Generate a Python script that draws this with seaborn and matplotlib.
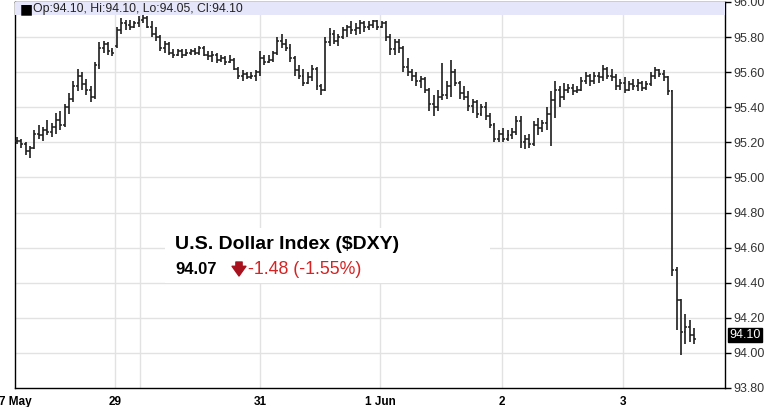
import numpy as np
import pandas as pd
import matplotlib.pyplot as plt
import matplotlib.patches as mpatches
import seaborn as sns

# OHLC bars (one per bar, left to right)
opens = [95.21, 95.21, 95.19, 95.15, 95.17, 95.25, 95.24, 95.27, 95.26, 95.29,
         95.33, 95.30, 95.40, 95.45, 95.52, 95.58, 95.53, 95.50, 95.46, 95.64,
         95.74, 95.76, 95.72, 95.75, 95.84, 95.88, 95.87, 95.86, 95.88, 95.90,
         95.91, 95.86, 95.82, 95.80, 95.74, 95.76, 95.71, 95.70, 95.72, 95.70,
         95.71, 95.72, 95.71, 95.74, 95.70, 95.69, 95.70, 95.67, 95.68, 95.66,
         95.67, 95.62, 95.58, 95.59, 95.57, 95.58, 95.60, 95.68, 95.66, 95.67,
         95.71, 95.78, 95.76, 95.74, 95.68, 95.61, 95.58, 95.54, 95.57, 95.62,
         95.52, 95.50, 95.77, 95.82, 95.78, 95.80, 95.84, 95.86, 95.84, 95.85,
         95.88, 95.86, 95.87, 95.89, 95.86, 95.88, 95.80, 95.73, 95.77, 95.74,
         95.63, 95.60, 95.58, 95.55, 95.56, 95.50, 95.42, 95.40, 95.46, 95.47,
         95.52, 95.60, 95.54, 95.48, 95.46, 95.41, 95.43, 95.36, 95.40, 95.35,
         95.30, 95.22, 95.25, 95.22, 95.24, 95.26, 95.32, 95.20, 95.22, 95.19,
         95.30, 95.28, 95.31, 95.36, 95.44, 95.50, 95.46, 95.50, 95.51, 95.49,
         95.50, 95.55, 95.58, 95.55, 95.58, 95.57, 95.62, 95.58, 95.57, 95.52,
         95.54, 95.50, 95.53, 95.52, 95.54, 95.51, 95.53, 95.58, 95.61, 95.59,
         95.57, 95.49, 94.47, 94.30, 94.12, 94.15, 94.10]
highs = [95.23, 95.22, 95.20, 95.18, 95.27, 95.30, 95.29, 95.33, 95.31, 95.37,
         95.38, 95.42, 95.48, 95.55, 95.62, 95.60, 95.56, 95.52, 95.66, 95.77,
         95.78, 95.77, 95.74, 95.86, 95.91, 95.90, 95.90, 95.89, 95.92, 95.93,
         95.92, 95.89, 95.86, 95.81, 95.78, 95.77, 95.73, 95.73, 95.73, 95.73,
         95.73, 95.74, 95.75, 95.75, 95.72, 95.72, 95.71, 95.70, 95.69, 95.70,
         95.68, 95.63, 95.61, 95.60, 95.60, 95.61, 95.72, 95.70, 95.70, 95.72,
         95.80, 95.82, 95.79, 95.76, 95.69, 95.64, 95.62, 95.60, 95.64, 95.63,
         95.53, 95.80, 95.85, 95.84, 95.82, 95.86, 95.87, 95.89, 95.88, 95.90,
         95.89, 95.89, 95.90, 95.90, 95.89, 95.89, 95.82, 95.79, 95.79, 95.75,
         95.68, 95.62, 95.60, 95.58, 95.57, 95.51, 95.47, 95.50, 95.65, 95.55,
         95.67, 95.62, 95.55, 95.52, 95.49, 95.45, 95.44, 95.42, 95.43, 95.37,
         95.31, 95.27, 95.28, 95.27, 95.28, 95.35, 95.35, 95.24, 95.25, 95.32,
         95.34, 95.33, 95.40, 95.49, 95.55, 95.52, 95.54, 95.53, 95.53, 95.52,
         95.57, 95.60, 95.59, 95.60, 95.60, 95.64, 95.63, 95.62, 95.59, 95.56,
         95.57, 95.55, 95.56, 95.56, 95.55, 95.55, 95.60, 95.63, 95.62, 95.61,
         95.58, 95.50, 94.49, 94.31, 94.22, 94.19, 94.14]
lows = [95.19, 95.17, 95.13, 95.11, 95.16, 95.22, 95.21, 95.24, 95.23, 95.25,
        95.27, 95.29, 95.36, 95.43, 95.49, 95.50, 95.47, 95.43, 95.45, 95.62,
        95.71, 95.70, 95.69, 95.74, 95.82, 95.84, 95.84, 95.85, 95.86, 95.88,
        95.85, 95.80, 95.78, 95.72, 95.71, 95.70, 95.68, 95.69, 95.68, 95.69,
        95.70, 95.70, 95.70, 95.69, 95.67, 95.66, 95.65, 95.66, 95.64, 95.65,
        95.61, 95.56, 95.55, 95.56, 95.56, 95.55, 95.58, 95.64, 95.65, 95.66,
        95.70, 95.74, 95.72, 95.66, 95.58, 95.56, 95.52, 95.53, 95.55, 95.50,
        95.47, 95.49, 95.75, 95.76, 95.75, 95.79, 95.80, 95.82, 95.81, 95.82,
        95.83, 95.84, 95.85, 95.84, 95.85, 95.78, 95.70, 95.70, 95.71, 95.60,
        95.58, 95.55, 95.52, 95.51, 95.48, 95.38, 95.35, 95.38, 95.44, 95.45,
        95.46, 95.52, 95.45, 95.44, 95.38, 95.37, 95.34, 95.35, 95.33, 95.28,
        95.20, 95.20, 95.20, 95.21, 95.22, 95.24, 95.17, 95.16, 95.17, 95.18,
        95.24, 95.26, 95.27, 95.18, 95.34, 95.40, 95.44, 95.48, 95.47, 95.48,
        95.49, 95.53, 95.52, 95.53, 95.54, 95.55, 95.56, 95.55, 95.50, 95.50,
        95.48, 95.49, 95.50, 95.49, 95.49, 95.50, 95.52, 95.56, 95.57, 95.55,
        95.47, 94.44, 94.13, 93.99, 94.05, 94.06, 94.05]
closes = [95.21, 95.19, 95.15, 95.17, 95.25, 95.24, 95.27, 95.26, 95.29, 95.33,
          95.30, 95.40, 95.45, 95.52, 95.58, 95.53, 95.50, 95.46, 95.64, 95.74,
          95.76, 95.72, 95.71, 95.84, 95.88, 95.87, 95.86, 95.88, 95.90, 95.91,
          95.86, 95.82, 95.80, 95.74, 95.76, 95.71, 95.70, 95.72, 95.70, 95.71,
          95.72, 95.71, 95.74, 95.70, 95.69, 95.70, 95.67, 95.68, 95.66, 95.67,
          95.62, 95.58, 95.59, 95.57, 95.58, 95.60, 95.68, 95.66, 95.67, 95.71,
          95.78, 95.76, 95.74, 95.68, 95.61, 95.58, 95.54, 95.57, 95.62, 95.52,
          95.50, 95.77, 95.82, 95.78, 95.80, 95.84, 95.86, 95.84, 95.85, 95.88,
          95.86, 95.87, 95.89, 95.86, 95.88, 95.80, 95.73, 95.77, 95.74, 95.63,
          95.60, 95.58, 95.55, 95.56, 95.50, 95.42, 95.40, 95.46, 95.47, 95.52,
          95.60, 95.54, 95.48, 95.46, 95.41, 95.43, 95.36, 95.40, 95.35, 95.30,
          95.22, 95.25, 95.22, 95.24, 95.26, 95.32, 95.20, 95.22, 95.19, 95.30,
          95.28, 95.31, 95.36, 95.44, 95.50, 95.46, 95.50, 95.51, 95.49, 95.50,
          95.55, 95.58, 95.55, 95.58, 95.57, 95.62, 95.58, 95.57, 95.52, 95.54,
          95.50, 95.53, 95.52, 95.54, 95.51, 95.53, 95.58, 95.61, 95.59, 95.57,
          95.49, 94.47, 94.30, 94.12, 94.15, 94.10, 94.08]

# x axis: bar index positions of the day separators and their labels
day_ticks = [-0.46, 22.6, 28.3, 56, 83.6, 111.8, 139.6]
day_labels = ["7 May", "29", "", "31", "1 Jun", "2", "3"]
price_ticks = [93.8, 94.0, 94.2, 94.4, 94.6, 94.8, 95.0, 95.2, 95.4, 95.6, 95.8, 96.0]
last_price = 94.10

df = pd.DataFrame({"open": opens, "high": highs, "low": lows, "close": closes})
df["bar"] = np.arange(len(df))

sns.set_theme(style="white")
plt.rcParams["font.family"] = ["Liberation Sans", "DejaVu Sans"]

W, H = 767, 407
fig = plt.figure(figsize=(W / 100, H / 100), dpi=100)
ax = fig.add_axes([15 / W, 19 / H, 710 / W, 386 / H])

# OHLC bars
bar_col = "#1e1e1e"
ax.vlines(df["bar"], df["low"], df["high"], color=bar_col, lw=1.2, zorder=3)
ax.hlines(df["open"], df["bar"] - 0.45, df["bar"], color=bar_col, lw=1.1, zorder=3)
ax.hlines(df["close"], df["bar"], df["bar"] + 0.45, color=bar_col, lw=1.1, zorder=3)

ax.set_xlim(-0.46, 163.1)
ax.set_ylim(93.8, 96.0)

# grid
for t in day_ticks[1:]:
    ax.axvline(t, color="#e2e2e2", lw=1, zorder=0)
for p in price_ticks[1:-1]:
    ax.axhline(p, color="#e2e2e2", lw=1, zorder=0)

for s in ax.spines.values():
    s.set_color("black")
    s.set_linewidth(1)

ax.yaxis.tick_right()
ax.set_yticks(price_ticks)
ax.set_yticklabels([f"{p:.2f}" for p in price_ticks], fontsize=9, color="#333333")
ax.tick_params(axis="y", direction="out", length=4, width=1, color="black", pad=2)

ax.set_xticks(day_ticks)
ax.set_xticklabels(day_labels, fontsize=8.5, fontweight="bold", color="black")
ax.tick_params(axis="x", direction="out", length=3, width=1, color="black", pad=3)

# last price marker on the price axis
ax.text(1.006, last_price, f"{last_price:.2f}", transform=ax.get_yaxis_transform(),
        fontsize=9, color="white", va="center", ha="left",
        bbox=dict(boxstyle="square,pad=0.08", fc="black", ec="black"), zorder=6, clip_on=False)

# header band
ax.add_patch(mpatches.Rectangle((0, 1 - 13 / 386), 1, 13 / 386, transform=ax.transAxes,
                                facecolor="#e6e6fa", edgecolor="none", zorder=4))
ax.text(5 / 710, 1 - 7 / 386, "■", transform=ax.transAxes, fontsize=10,
        color="black", va="center", ha="left", zorder=5, family=["DejaVu Sans"])
ax.text(18 / 710, 1 - 7 / 386, "Op:94.10, Hi:94.10, Lo:94.05, Cl:94.10",
        transform=ax.transAxes, fontsize=8.8, color="#222222", va="center", ha="left", zorder=5)

# quote box
ax.add_patch(mpatches.Rectangle((165 / W, 1 - 283 / H), 325 / W, 55 / H, transform=fig.transFigure,
                                facecolor="white", edgecolor="none", zorder=2, clip_on=False))
fig.text(175 / W, 1 - 249 / H, "U.S. Dollar Index ($DXY)", fontsize=14, fontweight="bold",
         color="black", va="baseline", ha="left")
fig.text(175 / W, 1 - 274 / H, "94.07", fontsize=12, fontweight="bold",
         color="black", va="baseline", ha="left")
fig.text(248 / W, 1 - 274 / H, "-1.48 (-1.55%)", fontsize=12.8,
         color="#d42424", va="baseline", ha="left")
ax.annotate("", xy=(239 / W, 1 - 276 / H), xytext=(239 / W, 1 - 262 / H),
            xycoords="figure fraction", textcoords="figure fraction",
            arrowprops=dict(arrowstyle="simple,head_width=1.0,head_length=0.7,tail_width=0.45",
                            color="#a8121e", mutation_scale=10, shrinkA=0, shrinkB=0))

fig.savefig("out.png", dpi=100)
